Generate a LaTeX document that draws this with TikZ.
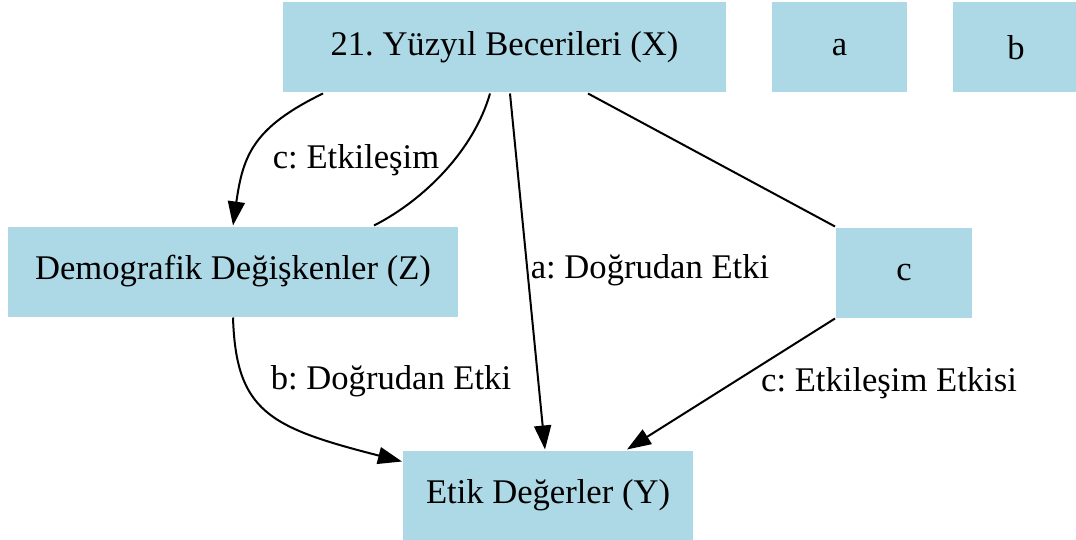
\documentclass[tikz,border=0pt]{standalone}
\usepackage{fontspec}
\setmainfont{Liberation Serif}
\usetikzlibrary{positioning,arrows.meta}
\definecolor{boxblue}{RGB}{173,216,230}
\frenchspacing

\begin{document}
\begin{tikzpicture}[x=0.5pt, y=-0.5pt, line width=1pt,
        font=\fontsize{17.3}{20}\selectfont,
        main/.style = {fill=boxblue, minimum height=45pt, inner sep=0pt},
        lbl/.style = {inner sep=0pt},
        >={Triangle[length=12pt,width=8.5pt]}]
        \useasboundingbox (0,0) rectangle (1076,540);

        \node[main, minimum width=221.5pt] (x) at (504.5,47.5) {21. Yüzyıl Becerileri (X)};
        \node[main, minimum width=67.5pt] (a) [right=22pt of x] {a};
        \node[main, minimum width=63pt] (b) [right=22pt of a] {b};
        \node[main, minimum width=225pt] (z) [below=66pt of x, xshift=-135.75pt] {Demografik Değişkenler (Z)};
        \node[main, minimum width=68pt] (c) [below=66.5pt of x, xshift=199.75pt] {c};
        \node[main, minimum width=145pt] (y) [below=66pt of z, xshift=157.5pt] {Etik Değerler (Y)};

        \draw[->] ([xshift=-90.75pt]x.south) .. controls +(-35pt,-17pt) and +(5pt,35pt) .. (z.north);
        \draw ([xshift=70.5pt]z.north) .. controls +(25.5pt,13pt) and +(-8pt,-28pt) .. ([xshift=-7.25pt]x.south);
        \draw[->] ([xshift=2.75pt]x.south) -- ([xshift=-1.5pt]y.north);
        \draw ([xshift=41.75pt]x.south) -- (c.north west);
        \draw[->] (z.south) .. controls +(1.5pt,-47pt) and +(-66.5pt,17pt) .. ([yshift=-6pt]y.north west);
        \draw[->] (c.south west) -- ([xshift=39.5pt]y.north);

        \node[lbl] (l1) at (356,160) {c: Etkileşim};
        \node[lbl] (l2) at (650,270) {a: Doğrudan Etki};
        \node[lbl] (l3) at (391,381) {b: Doğrudan Etki};
        \node[lbl] (l4) at (889,383) {c: Etkileşim Etkisi};

    \end{tikzpicture}
\end{document}
